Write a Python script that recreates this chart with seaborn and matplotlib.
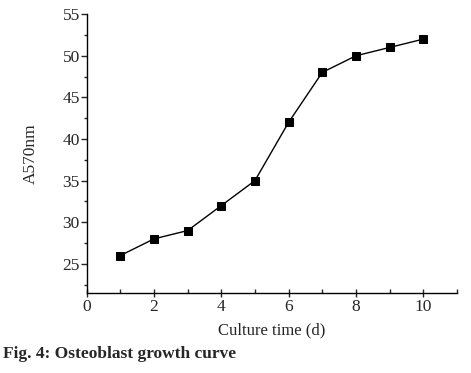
import matplotlib
matplotlib.use('Agg')
import matplotlib.pyplot as plt
import seaborn as sns
import pandas as pd
from matplotlib.ticker import MultipleLocator

# Growth curve values
days = [1, 2, 3, 4, 5, 6, 7, 8, 9, 10]
a570 = [26, 28, 29, 32, 35, 42, 48, 50, 51, 52]

data = pd.DataFrame({'day': days, 'a570': a570})

sns.set_style('ticks')
plt.rcParams['font.family'] = ['Liberation Serif', 'DejaVu Serif']

fig = plt.figure(figsize=(4.71, 3.73), dpi=100)
ax = fig.add_axes([0.184, 0.2145, 0.786, 0.7475])

sns.lineplot(x='day', y='a570', data=data, ax=ax, color='black', linewidth=1,
             marker='s', markersize=6, markeredgecolor='black', markerfacecolor='black')

ax.set_xlim(0, 11)
ax.set_ylim(21.5, 55)
ax.xaxis.set_major_locator(MultipleLocator(2))
ax.xaxis.set_minor_locator(MultipleLocator(1))
ax.yaxis.set_major_locator(MultipleLocator(5))
ax.yaxis.set_minor_locator(MultipleLocator(2.5))

# Origin-style ticks: x ticks mostly inside, y ticks outside
ax.tick_params(axis='x', which='major', direction='inout', length=6, width=1, labelsize=12.5, pad=1.5)
ax.tick_params(axis='x', which='minor', direction='in', length=3, width=1)
ax.tick_params(axis='y', which='major', direction='out', length=4, width=1, labelsize=12.5, pad=1)
ax.tick_params(axis='y', which='minor', direction='out', length=2.5, width=1)

sns.despine(ax=ax)
for s in ['left', 'bottom']:
    ax.spines[s].set_linewidth(1)
    ax.spines[s].set_color('black')

ax.set_xlabel('Culture time (d)', fontsize=12, labelpad=5)
ax.set_ylabel('A570nm', fontsize=12.5, labelpad=17)

fig.text(0.006, 0.05, 'Fig. 4: Osteoblast growth curve', fontsize=12.5, fontweight='bold',
         ha='left', va='center')

plt.savefig('out.png', dpi=100)
